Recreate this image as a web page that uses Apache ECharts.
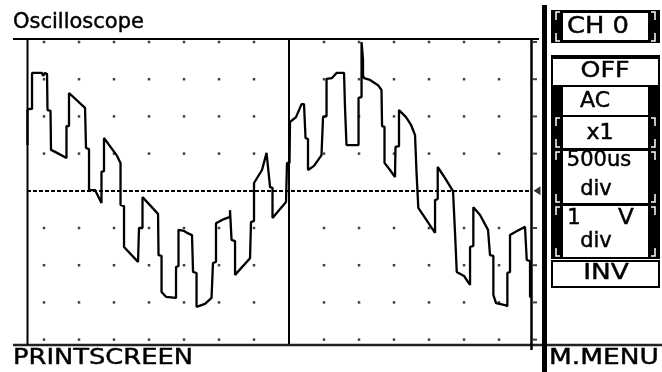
<!DOCTYPE html>
<html>
<head>
<meta charset="utf-8">
<script src="https://cdn.jsdelivr.net/npm/echarts@6/dist/echarts.min.js"></script>
<style>
html,body{margin:0;padding:0;background:#fff;}
#c{width:662px;height:372px;}
</style>
</head>
<body>
<div id="c"></div>
<script>
// ---- data (time in microseconds relative to trigger, voltage in volts) ----
const timeUs = [-3736,-3736,-3707,-3671,-3671,-3529,-3514,-3486,-3457,-3450,-3407,-3400,-3314,-3179,-3179,-3143,-3143,-2914,-2900,-2900,-2857,-2857,-2771,-2679,-2679,-2643,-2643,-2464,-2407,-2407,-2357,-2357,-2157,-2143,-2093,-2093,-1871,-1864,-1821,-1821,-1757,-1614,-1614,-1579,-1579,-1500,-1457,-1386,-1371,-1321,-1321,-1200,-1107,-1086,-1043,-1043,-929,-843,-843,-821,-821,-771,-771,-557,-543,-500,-500,-386,-321,-300,-271,-236,-236,-43,-29,-29,7,14,100,179,214,236,271,271,357,464,486,486,536,536,614,679,786,800,821,821,993,993,1036,1036,1057,1057,1071,1157,1271,1321,1329,1364,1364,1443,1514,1521,1571,1571,1671,1743,1800,1821,1821,1847,1847,1943,2086,2086,2124,2124,2229,2343,2371,2371,2396,2396,2500,2586,2586,2633,2633,2729,2843,2871,2871,2919,2919,2957,3086,3119,3119,3157,3157,3257,3371,3396,3443,3443,3457];
const volts = [1.23,2.17,2.20,2.20,3.17,3.17,3.09,3.17,3.14,2.17,2.15,1.10,1.02,0.88,1.74,1.74,2.63,2.23,2.20,1.15,1.12,0.02,0.02,-0.33,0.51,0.53,1.42,0.96,0.75,-0.38,-0.41,-1.51,-1.91,-1.00,-1.00,-0.17,-0.62,-1.73,-1.75,-2.72,-2.85,-2.88,-2.05,-2.02,-1.05,-1.08,-1.13,-1.19,-2.18,-2.21,-3.12,-3.04,-2.88,-1.94,-1.91,-0.87,-0.76,-0.70,-0.52,-0.52,-1.32,-1.35,-2.26,-1.81,-0.84,-0.81,0.21,0.56,1.02,1.02,0.10,0.08,-0.73,-0.30,-0.25,0.75,0.75,1.85,1.98,2.33,2.33,1.42,1.39,0.56,0.67,0.96,0.99,1.98,2.01,3.01,3.03,3.17,3.17,2.23,2.20,1.23,1.23,2.50,2.52,4.00,3.52,3.11,3.03,2.98,2.84,2.71,1.74,1.72,0.75,0.56,0.37,1.18,1.20,2.17,1.98,1.77,1.50,1.50,0.51,0.48,-0.46,-0.73,-1.13,-0.25,-0.22,0.64,0.34,-0.01,-0.03,-1.11,-1.13,-2.18,-2.29,-2.53,-1.51,-1.48,-0.44,-0.65,-1.05,-1.05,-1.73,-1.75,-2.80,-3.02,-3.07,-3.10,-2.21,-2.18,-1.19,-1.08,-0.97,-1.86,-1.89,-2.85,-2.85];

// grid divisions: 500 us/div, 1 V/div
const gridTimesUs = [-3500,-3000,-2500,-2000,-1500,-1000,-500,500,1000,1500,2000,2500,3000];
const gridVolts = [-4,-3,-2,-1,1,2,3,4];
const timeRange = [-3743, 3471];
const voltRange = [-4.118, 4.081];
const triggerLevel = 0;

// labels
const title = 'Oscilloscope';
const footerLeft = 'PRINTSCREEN';
const footerRight = 'M.MENU';
const channel = 'CH 0';

const n = Math.min(timeUs.length, volts.length);
const trace = [];
for (let i = 0; i < n; i++) trace.push([timeUs[i], volts[i]]);

const dots = [];
gridTimesUs.forEach(t => gridVolts.forEach(v => dots.push([t, v])));
const edgeTicks = gridVolts.map(v => [timeRange[1], v]);

const FONT = '"DejaVu Sans", sans-serif';
function txt(text, x, y, size, opts) {
  opts = opts || {};
  return {
    type: 'text', x: x, y: y, scaleX: opts.sx || 1, scaleY: opts.sy || 1, z: 100,
    style: {
      x: 0, y: 0, text: text, fill: '#000', stroke: '#000', lineWidth: 0.45,
      font: size + 'px ' + FONT,
      textAlign: opts.align || 'center', textVerticalAlign: 'middle'
    }
  };
}
function rect(x, y, w, h, fill, stroke, lw) {
  return { type: 'rect', z: 90, shape: { x: x, y: y, width: w, height: h },
    style: { fill: fill, stroke: stroke || null, lineWidth: lw || 0 } };
}
function pl(points, color, lw) {
  return { type: 'polyline', z: 95, shape: { points: points },
    style: { stroke: color, lineWidth: lw || 1.5, fill: null } };
}
function brackets(y0, y1) {
  return [
    pl([[560, y0 + 2], [556, y0 + 2], [556, y0 + 10]], '#fff'),
    pl([[556, y1 - 10], [556, y1 - 2], [560, y1 - 2]], '#fff'),
    pl([[651, y0 + 2], [655, y0 + 2], [655, y0 + 10]], '#fff'),
    pl([[655, y1 - 10], [655, y1 - 2], [651, y1 - 2]], '#fff')
  ];
}

const graphics = [
  { type: 'line', z: 80, shape: { x1: 13, y1: 39, x2: 539, y2: 39 }, style: { stroke: '#000', lineWidth: 2 } },
  { type: 'line', z: 80, shape: { x1: 13, y1: 345, x2: 662, y2: 345 }, style: { stroke: '#222', lineWidth: 2.5 } },
  { type: 'line', z: 80, shape: { x1: 27.5, y1: 39, x2: 27.5, y2: 345 }, style: { stroke: '#000', lineWidth: 2 } },
  { type: 'line', z: 80, shape: { x1: 531.5, y1: 39, x2: 531.5, y2: 350 }, style: { stroke: '#000', lineWidth: 2.5 } },
  rect(542, 5, 5, 367, '#000'),
  rect(551, 10, 109, 33, '#000'),
  rect(563, 13, 85, 27, '#fff'),
  ...brackets(10, 43),
  rect(551, 55, 109, 204, '#000'),
  rect(553, 59, 105, 26, '#fff'),
  rect(563, 87, 85, 28, '#fff'),
  rect(563, 117, 85, 31, '#fff'),
  ...brackets(116, 149),
  rect(563, 151, 85, 52, '#fff'),
  ...brackets(150, 204),
  rect(563, 206, 85, 51, '#fff'),
  ...brackets(205, 258),
  rect(552, 261, 107, 26, '#fff', '#000', 2),
  txt(title, 13, 22, 21, { align: 'left', sy: 1.05 }),
  txt(footerLeft, 13, 358, 22, { align: 'left', sx: 1.17 }),
  txt(footerRight, 549, 358, 22, { align: 'left', sx: 1.2 }),
  txt(channel, 598, 27, 23, { sx: 1.12 }),
  txt('OFF', 605, 71, 22, { sx: 1.15 }),
  txt('AC', 595, 101, 22, {}),
  txt('x1', 600, 134, 21, { sx: 1.05 }),
  txt('500us', 599, 161, 21, {}),
  txt('div', 596, 190, 21, {}),
  txt('1', 574, 219, 21, {}),
  txt('V', 626, 219, 21, { sx: 1.1 }),
  txt('div', 596, 242, 21, {}),
  txt('INV', 606, 273, 22, { sx: 1.2 })
];

const chart = echarts.init(document.getElementById('c'), null, { renderer: 'canvas' });
chart.setOption({
  animation: false,
  backgroundColor: '#fff',
  grid: { left: 27, top: 39, width: 505, height: 305, containLabel: false },
  xAxis: { type: 'value', min: timeRange[0], max: timeRange[1], show: false },
  yAxis: { type: 'value', min: voltRange[0], max: voltRange[1], show: false },
  series: [
    {
      type: 'scatter', data: dots, symbol: 'rect', symbolSize: 2.5,
      itemStyle: { color: '#111' }, silent: true, z: 1
    },
    {
      type: 'scatter', data: edgeTicks, symbol: 'rect', symbolSize: [4, 2], symbolOffset: [3, 0],
      itemStyle: { color: '#111' }, silent: true, z: 1, clip: false
    },
    {
      type: 'scatter', data: [[timeRange[1], triggerLevel]], symbol: 'path://M0,5 L8,0 L8,10 Z',
      symbolSize: [7, 9], symbolOffset: [5, 0], itemStyle: { color: '#000' }, silent: true, clip: false, z: 3
    },
    {
      type: 'line', data: trace, showSymbol: false, symbol: 'none',
      lineStyle: { color: '#000', width: 2.3 }, z: 4, silent: true,
      markLine: {
        silent: true, symbol: 'none', label: { show: false }, animation: false,
        data: [
          { xAxis: 0, lineStyle: { color: '#000', width: 2, type: 'solid' } },
          { yAxis: triggerLevel, lineStyle: { color: '#000', width: 2, type: [4, 2] } }
        ]
      }
    }
  ],
  graphic: graphics
});
</script>
</body>
</html>
